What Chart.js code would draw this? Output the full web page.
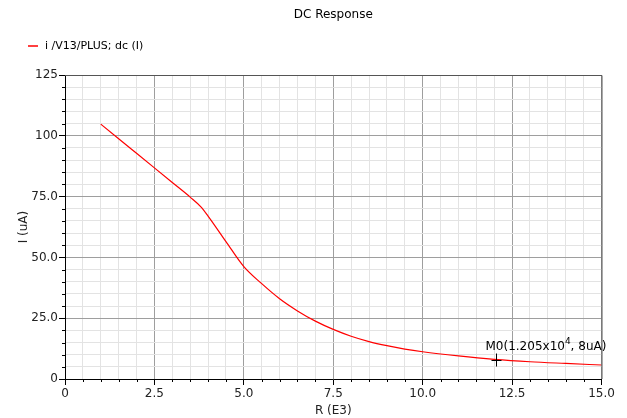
<!DOCTYPE html>
<html>
<head>
<meta charset="utf-8">
<script src="https://cdn.jsdelivr.net/npm/chart.js@4"></script>
<style>
  html, body { margin: 0; padding: 0; background: #fff; }
  #wrap { width: 627px; height: 418px; }
</style>
</head>
<body>
<div id="wrap"><canvas id="dcChart" width="627" height="418"></canvas></div>
<script>
// R in units of 1e3 ohm, current in uA
const rValues = [1.0, 1.5, 2.0, 2.5, 3.0, 3.5, 3.8, 4.0, 4.5, 5.0, 5.5, 6.0, 6.5, 7.0, 7.5,
                 8.0, 8.5, 9.0, 9.5, 10.0, 11.0, 12.0, 13.0, 14.0, 15.0];
const iValues = [104.8, 98.8, 92.8, 86.8, 80.8, 74.8, 70.8, 67.0, 56.5, 46.2, 39.2, 33.0, 28.0, 23.8, 20.4,
                 17.6, 15.4, 13.7, 12.3, 11.2, 9.5, 8.1, 7.1, 6.4, 5.75];
const xTickLabels = ['0', '2.5', '5.0', '7.5', '10.0', '12.5', '15.0'];
const yTickLabels = ['0', '25.0', '50.0', '75.0', '100', '125'];
const markerX = [12.05];
const markerY = [8];
const markerName = 'M0';

const FONT = 'DejaVu Sans';

const isMajor = (v, step) => Math.abs(v / step - Math.round(v / step)) < 1e-6;

// title, legend entry, frame, minor ticks and the M0 marker
const decorations = {
    id: 'decorations',
    afterDraw(chart) {
        const {ctx, chartArea, scales} = chart;
        const xs = scales.x, ys = scales.y;
        ctx.save();

        // frame top + right
        ctx.strokeStyle = '#555';
        ctx.lineWidth = 1;
        ctx.beginPath();
        ctx.moveTo(chartArea.left, chartArea.top + 0.5);
        ctx.lineTo(chartArea.right + 0.5, chartArea.top + 0.5);
        ctx.lineTo(chartArea.right + 0.5, chartArea.bottom);
        ctx.stroke();

        // minor ticks
        ctx.strokeStyle = '#000';
        ctx.beginPath();
        xs.ticks.forEach(t => {
            if (isMajor(t.value, 2.5)) return;
            const px = Math.round(xs.getPixelForValue(t.value)) + 0.5;
            ctx.moveTo(px, chartArea.bottom);
            ctx.lineTo(px, chartArea.bottom + 3);
        });
        ys.ticks.forEach(t => {
            if (isMajor(t.value, 25)) return;
            const py = Math.round(ys.getPixelForValue(t.value)) + 0.5;
            ctx.moveTo(chartArea.left, py);
            ctx.lineTo(chartArea.left - 3, py);
        });
        ctx.stroke();

        // title
        ctx.fillStyle = '#000';
        ctx.font = '12px "' + FONT + '"';
        ctx.textAlign = 'center';
        ctx.textBaseline = 'middle';
        ctx.fillText('DC Response', (chartArea.left + chartArea.right) / 2, 15);

        // legend entry
        const ds = chart.data.datasets[0];
        ctx.strokeStyle = ds.borderColor;
        ctx.lineWidth = 1.5;
        ctx.beginPath();
        ctx.moveTo(28, 46);
        ctx.lineTo(38, 46);
        ctx.stroke();
        ctx.font = '11px "' + FONT + '"';
        ctx.textAlign = 'left';
        ctx.fillText(ds.label, 45, 46.5);

        // marker
        markerX.forEach((mx, i) => {
            const px = Math.round(xs.getPixelForValue(mx)) + 0.5;
            const py = Math.round(ys.getPixelForValue(markerY[i])) + 0.5;
            ctx.strokeStyle = '#000';
            ctx.lineWidth = 1;
            ctx.beginPath();
            ctx.moveTo(px, py - 7);
            ctx.lineTo(px, py + 6);
            ctx.moveTo(px - 5, py);
            ctx.lineTo(px + 5, py);
            ctx.stroke();

            ctx.font = '12px "' + FONT + '"';
            ctx.textBaseline = 'alphabetic';
            let tx = px - 11;
            const ty = py - 11;
            const head = markerName + '(' + (mx / 10).toFixed(3) + 'x10';
            ctx.fillText(head, tx, ty);
            tx += ctx.measureText(head).width;
            ctx.font = '9px "' + FONT + '"';
            ctx.fillText('4', tx, ty - 6);
            tx += ctx.measureText('4').width;
            ctx.font = '12px "' + FONT + '"';
            ctx.fillText(', ' + markerY[i] + 'uA)', tx, ty);
        });
        ctx.restore();
    }
};

const points = rValues.map((r, i) => ({x: r, y: iValues[i]}));

new Chart(document.getElementById('dcChart'), {
    type: 'line',
    data: {
        datasets: [{
            label: 'i /V13/PLUS; dc (I)',
            data: points,
            borderColor: '#ff0000',
            backgroundColor: '#ff0000',
            borderWidth: 1.2,
            pointRadius: 0,
            cubicInterpolationMode: 'monotone',
            fill: false
        }]
    },
    options: {
        responsive: false,
        animation: false,
        layout: {
            padding: {top: 75, left: 0, right: 25.5, bottom: 0}
        },
        plugins: {
            legend: {display: false},
            title: {display: false},
            tooltip: {enabled: false}
        },
        scales: {
            x: {
                type: 'linear',
                min: 0,
                max: 15,
                afterFit(scale) { scale.height = 39; },
                border: {color: '#000', width: 1},
                grid: {
                    color: c => isMajor(c.tick.value, 2.5) ? '#9e9e9e' : '#e3e3e3',
                    tickColor: c => isMajor(c.tick.value, 2.5) ? '#000' : 'rgba(0,0,0,0)',
                    tickLength: 6
                },
                ticks: {
                    stepSize: 0.5,
                    autoSkip: false,
                    maxRotation: 0,
                    padding: 2,
                    color: '#222',
                    font: {family: FONT, size: 12},
                    callback: v => isMajor(v, 2.5) ? xTickLabels[Math.round(v / 2.5)] : ''
                },
                title: {
                    display: true,
                    text: 'R (E3)',
                    color: '#222',
                    padding: 0,
                    font: {family: FONT, size: 12}
                }
            },
            y: {
                min: 0,
                max: 125,
                afterFit(scale) { scale.width = 65; },
                border: {color: '#000', width: 1},
                grid: {
                    color: c => isMajor(c.tick.value, 25) ? '#9e9e9e' : '#e3e3e3',
                    tickColor: c => isMajor(c.tick.value, 25) ? '#000' : 'rgba(0,0,0,0)',
                    tickLength: 6
                },
                ticks: {
                    stepSize: 5,
                    autoSkip: false,
                    padding: 1,
                    color: '#222',
                    font: {family: FONT, size: 12},
                    callback: v => isMajor(v, 25) ? yTickLabels[Math.round(v / 25)] : ''
                },
                title: {
                    display: true,
                    text: 'I (uA)',
                    color: '#222',
                    padding: {top: 17, bottom: 0},
                    font: {family: FONT, size: 12}
                }
            }
        }
    },
    plugins: [decorations]
});
</script>
</body>
</html>
